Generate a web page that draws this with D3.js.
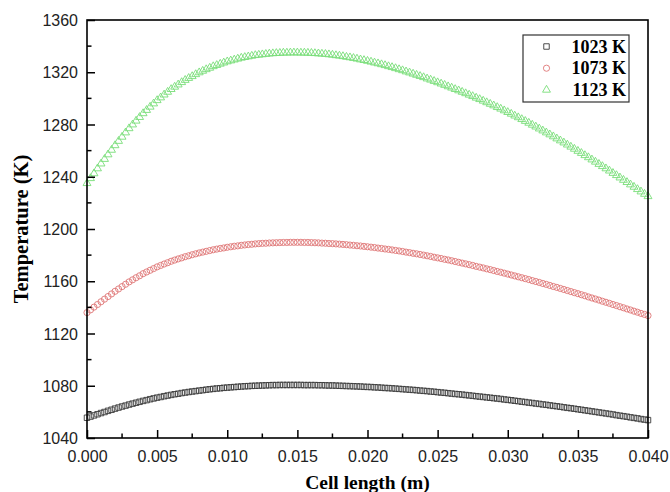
<!DOCTYPE html>
<html><head><meta charset="utf-8">
<script src="https://cdn.jsdelivr.net/npm/d3@7"></script>
<style>
html,body{margin:0;padding:0;background:#fff;}
svg{display:block;}
</style></head>
<body>
<svg id="chart" width="670" height="492"></svg>
<script>
// Cell length (m)
const cellLength = [
0,0.00025,0.0005,0.00075,0.001,0.00125,0.0015,0.00175,0.002,0.00225,0.0025,0.00275,
0.003,0.00325,0.0035,0.00375,0.004,0.00425,0.0045,0.00475,0.005,0.00525,0.0055,0.00575,
0.006,0.00625,0.0065,0.00675,0.007,0.00725,0.0075,0.00775,0.008,0.00825,0.0085,0.00875,
0.009,0.00925,0.0095,0.00975,0.01,0.01025,0.0105,0.01075,0.011,0.01125,0.0115,0.01175,
0.012,0.01225,0.0125,0.01275,0.013,0.01325,0.0135,0.01375,0.014,0.01425,0.0145,0.01475,
0.015,0.01525,0.0155,0.01575,0.016,0.01625,0.0165,0.01675,0.017,0.01725,0.0175,0.01775,
0.018,0.01825,0.0185,0.01875,0.019,0.01925,0.0195,0.01975,0.02,0.02025,0.0205,0.02075,
0.021,0.02125,0.0215,0.02175,0.022,0.02225,0.0225,0.02275,0.023,0.02325,0.0235,0.02375,
0.024,0.02425,0.0245,0.02475,0.025,0.02525,0.0255,0.02575,0.026,0.02625,0.0265,0.02675,
0.027,0.02725,0.0275,0.02775,0.028,0.02825,0.0285,0.02875,0.029,0.02925,0.0295,0.02975,
0.03,0.03025,0.0305,0.03075,0.031,0.03125,0.0315,0.03175,0.032,0.03225,0.0325,0.03275,
0.033,0.03325,0.0335,0.03375,0.034,0.03425,0.0345,0.03475,0.035,0.03525,0.0355,0.03575,
0.036,0.03625,0.0365,0.03675,0.037,0.03725,0.0375,0.03775,0.038,0.03825,0.0385,0.03875,
0.039,0.03925,0.0395,0.03975,0.04];

// Temperature (K) for inlet 1023 K
const temp1023 = [
1055.5,1056.4,1057.3,1058.2,1059.1,1059.9,1060.8,1061.6,1062.5,1063.3,1064.1,1064.8,
1065.6,1066.3,1067.0,1067.7,1068.4,1069.0,1069.7,1070.3,1070.9,1071.4,1072.0,1072.5,
1073.0,1073.5,1073.9,1074.4,1074.8,1075.2,1075.6,1075.9,1076.3,1076.6,1077.0,1077.3,
1077.6,1077.9,1078.1,1078.4,1078.6,1078.8,1079.0,1079.2,1079.4,1079.6,1079.7,1079.9,
1080.0,1080.1,1080.2,1080.3,1080.4,1080.5,1080.5,1080.6,1080.6,1080.6,1080.6,1080.6,
1080.6,1080.6,1080.5,1080.5,1080.5,1080.5,1080.4,1080.4,1080.3,1080.2,1080.2,1080.1,
1080.0,1079.9,1079.8,1079.7,1079.6,1079.5,1079.4,1079.2,1079.1,1079.0,1078.8,1078.7,
1078.5,1078.3,1078.2,1078.0,1077.8,1077.6,1077.4,1077.2,1077.0,1076.8,1076.6,1076.3,
1076.1,1075.9,1075.6,1075.4,1075.1,1074.8,1074.6,1074.3,1074.0,1073.7,1073.5,1073.2,
1072.9,1072.6,1072.3,1072.0,1071.7,1071.4,1071.1,1070.8,1070.5,1070.2,1069.9,1069.5,
1069.2,1068.9,1068.5,1068.2,1067.8,1067.5,1067.1,1066.8,1066.4,1066.1,1065.7,1065.4,
1065.0,1064.6,1064.3,1063.9,1063.5,1063.1,1062.8,1062.4,1062.0,1061.6,1061.2,1060.8,
1060.4,1060.0,1059.6,1059.2,1058.8,1058.4,1058.0,1057.5,1057.1,1056.7,1056.3,1055.8,
1055.4,1055.0,1054.5,1054.1,1053.7];

// Temperature (K) for inlet 1073 K
const temp1073 = [
1136.0,1138.1,1140.2,1142.2,1144.3,1146.3,1148.3,1150.3,1152.3,1154.1,1155.9,1157.7,
1159.5,1161.1,1162.7,1164.2,1165.8,1167.1,1168.4,1169.7,1171.0,1172.1,1173.2,1174.2,
1175.3,1176.2,1177.1,1177.9,1178.8,1179.5,1180.3,1181.0,1181.7,1182.3,1182.9,1183.5,
1184.1,1184.6,1185.1,1185.5,1186.0,1186.4,1186.8,1187.1,1187.5,1187.8,1188.1,1188.3,
1188.6,1188.8,1189.0,1189.1,1189.3,1189.4,1189.5,1189.6,1189.7,1189.7,1189.8,1189.8,
1189.8,1189.8,1189.7,1189.7,1189.6,1189.5,1189.4,1189.2,1189.1,1188.9,1188.8,1188.6,
1188.4,1188.2,1188.0,1187.7,1187.5,1187.2,1187.0,1186.7,1186.4,1186.1,1185.8,1185.4,
1185.1,1184.7,1184.4,1184.0,1183.6,1183.2,1182.8,1182.3,1181.9,1181.4,1181.0,1180.5,
1180.0,1179.5,1179.0,1178.4,1177.9,1177.4,1176.8,1176.3,1175.7,1175.1,1174.5,1173.9,
1173.3,1172.7,1172.1,1171.4,1170.8,1170.2,1169.5,1168.9,1168.2,1167.5,1166.9,1166.2,
1165.5,1164.8,1164.1,1163.4,1162.7,1162.0,1161.3,1160.5,1159.8,1159.1,1158.3,1157.6,
1156.8,1156.0,1155.3,1154.5,1153.7,1152.9,1152.1,1151.3,1150.5,1149.7,1148.9,1148.0,
1147.2,1146.4,1145.6,1144.7,1143.9,1143.1,1142.2,1141.4,1140.5,1139.7,1138.8,1138.0,
1137.1,1136.3,1135.4,1134.6,1133.7];

// Temperature (K) for inlet 1123 K
const temp1123 = [
1235.0,1238.8,1242.5,1246.3,1250.0,1253.5,1257.0,1260.5,1264.0,1267.3,1270.5,1273.8,
1277.0,1279.9,1282.8,1285.6,1288.5,1291.0,1293.5,1296.0,1298.5,1300.6,1302.8,1304.9,
1307.0,1308.8,1310.5,1312.3,1314.0,1315.5,1316.9,1318.4,1319.8,1321.0,1322.2,1323.3,
1324.5,1325.4,1326.4,1327.3,1328.2,1328.9,1329.6,1330.3,1331.0,1331.5,1332.0,1332.5,
1333.0,1333.3,1333.6,1333.9,1334.2,1334.4,1334.6,1334.7,1334.9,1334.9,1335.0,1335.0,
1335.0,1334.9,1334.9,1334.8,1334.7,1334.5,1334.3,1334.1,1333.9,1333.6,1333.3,1332.9,
1332.6,1332.2,1331.7,1331.3,1330.8,1330.3,1329.7,1329.2,1328.6,1328.0,1327.3,1326.7,
1326.0,1325.3,1324.5,1323.8,1323.0,1322.2,1321.4,1320.5,1319.7,1318.8,1317.9,1317.0,
1316.1,1315.1,1314.2,1313.2,1312.2,1311.2,1310.2,1309.1,1308.1,1307.0,1306.0,1304.9,
1303.8,1302.7,1301.6,1300.4,1299.3,1298.1,1296.9,1295.7,1294.5,1293.2,1292.0,1290.7,
1289.4,1288.1,1286.7,1285.4,1284.0,1282.6,1281.2,1279.7,1278.3,1276.8,1275.3,1273.8,
1272.3,1270.8,1269.2,1267.7,1266.1,1264.5,1262.9,1261.3,1259.7,1258.1,1256.4,1254.8,
1253.1,1251.4,1249.7,1248.0,1246.3,1244.6,1242.8,1241.1,1239.3,1237.5,1235.8,1234.0,
1232.2,1230.4,1228.6,1226.8,1225.0];

const seriesNames = ["1023 K", "1073 K", "1123 K"];
const xTickValues = [0, 0.005, 0.010, 0.015, 0.020, 0.025, 0.030, 0.035, 0.040];
const xMinorTicks = [0.0025, 0.0075, 0.0125, 0.0175, 0.0225, 0.0275, 0.0325, 0.0375];
const yTickValues = [1040, 1080, 1120, 1160, 1200, 1240, 1280, 1320, 1360];
const yMinorTicks = [1060, 1100, 1140, 1180, 1220, 1260, 1300, 1340];

const margin = {left: 87, right: 22, top: 20, bottom: 54};
const W = 670, H = 492;
const svg = d3.select("#chart");

const x = d3.scaleLinear().domain([0, 0.04]).range([margin.left, W - margin.right]);
const y = d3.scaleLinear().domain([1040, 1360]).range([H - margin.bottom, margin.top]);

const series = [
  {name: seriesNames[0], values: temp1023, symbol: d3.symbolSquare, size: 30, color: "#3a3a3a"},
  {name: seriesNames[1], values: temp1073, symbol: d3.symbolCircle, size: 30, color: "#df7676"},
  {name: seriesNames[2], values: temp1123, symbol: d3.symbolTriangle, size: 27, color: "#78de78"}
];

// markers
series.forEach(s => {
  const path = d3.symbol().type(s.symbol).size(s.size)();
  svg.append("g").selectAll("path").data(cellLength.map((c, i) => [c, s.values[i]]))
    .join("path")
    .attr("d", path)
    .attr("transform", d => `translate(${x(d[0])},${y(d[1])})`)
    .attr("fill", "none")
    .attr("stroke", s.color)
    .attr("stroke-width", 0.9);
});

const tickFont = "'Liberation Sans', Arial, sans-serif";
const titleFont = "'Liberation Serif', 'Times New Roman', serif";

// bottom axis
const xAxis = d3.axisBottom(x).tickValues(xTickValues).tickSize(-8).tickPadding(13)
  .tickFormat(d3.format(".3f"));
const gx = svg.append("g").attr("transform", `translate(0,${y(1040)})`).call(xAxis);
gx.append("g").selectAll("line").data(xMinorTicks).join("line")
  .attr("x1", d => x(d)).attr("x2", d => x(d)).attr("y1", 0).attr("y2", -4.5)
  .attr("stroke", "#000").attr("stroke-width", 1.5);

// left axis
const yAxis = d3.axisLeft(y).tickValues(yTickValues).tickSize(-8).tickPadding(9)
  .tickFormat(d3.format("d"));
const gy = svg.append("g").attr("transform", `translate(${x(0)},0)`).call(yAxis);
gy.append("g").selectAll("line").data(yMinorTicks).join("line")
  .attr("y1", d => y(d)).attr("y2", d => y(d)).attr("x1", 0).attr("x2", 4.5)
  .attr("stroke", "#000").attr("stroke-width", 1.5);

[gx, gy].forEach(g => {
  g.select(".domain").remove();
  g.selectAll(".tick line").attr("stroke", "#000").attr("stroke-width", 1.5);
  g.selectAll("text").attr("font-family", tickFont).attr("font-size", 16).attr("fill", "#222");
});
gy.selectAll(".tick text").attr("dy", "0.35em");

// frame
svg.append("rect")
  .attr("x", x(0)).attr("y", y(1360))
  .attr("width", x(0.04) - x(0)).attr("height", y(1040) - y(1360))
  .attr("fill", "none").attr("stroke", "#000").attr("stroke-width", 1.6);

// axis titles
svg.append("text").attr("x", (x(0) + x(0.04)) / 2).attr("y", 489)
  .attr("text-anchor", "middle").attr("font-family", titleFont).attr("font-weight", "bold")
  .attr("font-size", 19.5).text("Cell length (m)");
svg.append("text").attr("transform", `translate(28,${(y(1040) + y(1360)) / 2}) rotate(-90)`)
  .attr("text-anchor", "middle").attr("font-family", titleFont).attr("font-weight", "bold")
  .attr("font-size", 20.5).text("Temperature (K)");

// legend
const lg = svg.append("g");
lg.append("rect").attr("x", 523).attr("y", 35).attr("width", 106).attr("height", 67)
  .attr("fill", "#fff").attr("stroke", "#333").attr("stroke-width", 1.2);
series.forEach((s, i) => {
  const cy = 46.5 + i * 21.7;
  lg.append("path").attr("d", d3.symbol().type(s.symbol).size(s.size)())
    .attr("transform", `translate(546.5,${cy})`)
    .attr("fill", "none").attr("stroke", s.color).attr("stroke-width", 0.9);
  lg.append("text").attr("x", 626).attr("y", cy + 6).attr("text-anchor", "end")
    .attr("font-family", titleFont).attr("font-weight", "bold").attr("font-size", 18)
    .text(s.name);
});
</script>
</body></html>
